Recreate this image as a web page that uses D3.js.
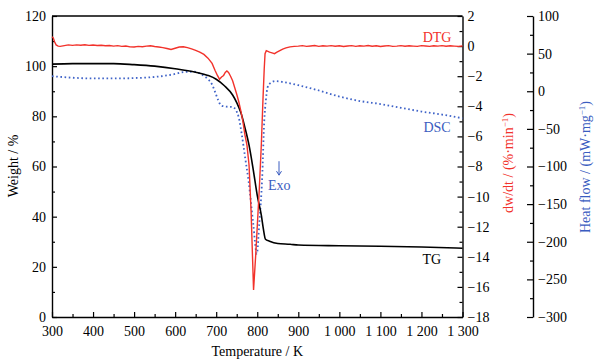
<!DOCTYPE html>
<html><head><meta charset="utf-8">
<script src="https://cdn.jsdelivr.net/npm/d3@7"></script>
<style>
body{margin:0;background:#fff}
text{font-family:"Liberation Serif","Times New Roman",serif}
</style>
</head><body>
<svg id="c" width="604" height="363"></svg>
<script>
// ---------- data ----------
const tgTemp = [300,350,400,450,500,550,600,650,680,700,720,740,750,760,770,780,790,800,810,815,820,830,850,880,900,1000,1100,1200,1300];
const tgWeight = [100.8,101.0,101.0,101.0,100.6,100.0,99.0,97.6,96.3,94.8,92.2,88.5,85.5,81.5,75.5,68.5,59,48.5,40.5,35,31,30.2,29.3,29.0,28.7,28.4,28.2,27.9,27.4];

const dtgTemp = [300,303,306,310,315,320,330,340,350,360,370,380,390,400,410,420,430,440,450,460,470,480,490,500,510,520,530,540,550,560,570,580,590,600,610,620,630,640,650,660,670,680,690,697,703,708,713,718,722,726,730,735,740,745,750,755,760,765,770,775,780,785,791,796,800,805,810,814,817,819,822,826,830,836,842,848,855,862,870,880,890,900,910,920,930,940,950,960,970,980,990,1000,1010,1020,1030,1040,1050,1060,1070,1080,1090,1100,1110,1120,1130,1140,1150,1160,1170,1180,1190,1200,1210,1220,1230,1240,1250,1260,1270,1280,1290,1300];
const dtgRate = [0.62,0.55,0.3,0.08,0.0,-0.02,0.03,0.08,0.05,0.08,0.06,0.09,0.05,0.07,0.04,0.06,0.02,0.04,0.0,0.03,-0.02,0.01,-0.05,-0.06,-0.02,-0.04,0.0,0.02,-0.03,-0.06,-0.1,-0.16,-0.22,-0.14,-0.06,-0.04,-0.1,-0.18,-0.28,-0.4,-0.55,-0.8,-1.15,-1.6,-1.95,-2.2,-2.05,-1.95,-1.75,-1.65,-1.75,-2.0,-2.3,-2.75,-3.2,-3.7,-4.3,-5.0,-5.9,-6.6,-7.9,-11.0,-16.2,-14.0,-12.0,-9.5,-6.5,-3.5,-1.5,-0.5,-0.3,-0.35,-0.4,-0.45,-0.5,-0.4,-0.3,-0.2,-0.12,-0.05,-0.02,0.0,0.03,-0.02,0.01,0.04,-0.02,0.02,0.0,0.03,-0.01,0.02,-0.03,0.01,0.03,-0.02,0.02,0.0,0.04,-0.01,0.02,-0.03,0.01,0.03,-0.02,0.0,0.03,-0.01,0.02,0.0,-0.02,0.03,0.01,-0.02,0.02,0.0,0.03,-0.01,0.02,0.0,-0.02,0.01];

const dscTemp = [300,350,400,450,500,550,600,620,645,665,680,690,698,705,712,725,740,748,755,763,771,779,790,799,805,812,817,821,825,830,845,865,900,950,1000,1050,1100,1150,1200,1250,1300];
const dscHeat = [20,18,17,17,17.5,19,23,25.5,26,22,16,9,-2,-12,-19,-20.5,-21,-25,-35,-60,-90,-120,-175,-216,-175,-115,-40,-12,5,10,13.5,12,8,1,-7,-13,-17,-22,-27,-31,-36];

const xTicks = [300,400,500,600,700,800,900,1000,1100,1200,1300];
const weightTicks = [0,20,40,60,80,100,120];
const rateTicks = [2,0,-2,-4,-6,-8,-10,-12,-14,-16,-18];
const heatTicks = [100,50,0,-50,-100,-150,-200,-250,-300];

// ---------- setup ----------
const svg = d3.select("#c");
const L = 52, R = 462.5, T = 16, B = 317;
const x = d3.scaleLinear([300,1300],[L,R]);
const yW = d3.scaleLinear([0,120],[B,T]);
const yD = d3.scaleLinear([-18,2],[B,T]);
const yH = d3.scaleLinear([-300,100],[B,T]);

const red = "#f2322b", blue = "#3f63c8", blueText = "#3a5cc0";
const fs = 14;

function style(g){
  g.selectAll("path.domain").attr("stroke","#000").attr("stroke-width",1.4);
  g.selectAll(".tick line").attr("stroke","#000").attr("stroke-width",1.2);
  g.selectAll("text").attr("font-size",fs).attr("fill","#000").attr("font-family","Liberation Serif, Times New Roman, serif");
}
const mid = a => a.slice(0,-1).map((v,i)=>(v+a[i+1])/2);
const fmtX = d => d>=1000 ? String(d).replace(/^(\d)(\d{3})$/,"$1 $2") : String(d);

// bottom axis
const gx = svg.append("g").attr("transform",`translate(0,${B})`)
  .call(d3.axisBottom(x).tickValues(xTicks).tickFormat(fmtX).tickSizeInner(-5).tickSizeOuter(0).tickPadding(9));
style(gx);
const gx2 = svg.append("g").attr("transform",`translate(0,${B})`)
  .call(d3.axisBottom(x).tickValues(mid(xTicks)).tickFormat("").tickSizeInner(-3).tickSizeOuter(0));
style(gx2); gx2.select("path.domain").remove();

// top frame
svg.append("line").attr("x1",x(300)).attr("x2",x(1300)).attr("y1",yW(120)).attr("y2",yW(120))
  .attr("stroke","#000").attr("stroke-width",1.4);

// left axis
const gy = svg.append("g").attr("transform",`translate(${L},0)`)
  .call(d3.axisLeft(yW).tickValues(weightTicks).tickSizeInner(-5).tickSizeOuter(0).tickPadding(6));
style(gy);
const gy2 = svg.append("g").attr("transform",`translate(${L},0)`)
  .call(d3.axisLeft(yW).tickValues(mid(weightTicks)).tickFormat("").tickSizeInner(-3).tickSizeOuter(0));
style(gy2); gy2.select("path.domain").remove();

// right dw/dt axis
const gd = svg.append("g").attr("transform",`translate(${R},0)`)
  .call(d3.axisRight(yD).tickValues(rateTicks).tickSizeInner(-5).tickSizeOuter(0).tickPadding(5));
style(gd);
const gd2 = svg.append("g").attr("transform",`translate(${R},0)`)
  .call(d3.axisRight(yD).tickValues(mid(rateTicks)).tickFormat("").tickSizeInner(-3).tickSizeOuter(0));
style(gd2); gd2.select("path.domain").remove();

// heat flow axis
const HX = 533;
const gh = svg.append("g").attr("transform",`translate(${HX},0)`)
  .call(d3.axisRight(yH).tickValues(heatTicks).tickSizeInner(-6).tickSizeOuter(0).tickPadding(5));
style(gh);
const gh2 = svg.append("g").attr("transform",`translate(${HX},0)`)
  .call(d3.axisRight(yH).tickValues(mid(heatTicks)).tickFormat("").tickSizeInner(-3).tickSizeOuter(0));
style(gh2); gh2.select("path.domain").remove();

// ---------- curves ----------
const plot = svg.append("g");
plot.append("path")
  .datum(dscTemp.map((t,i)=>[t,dscHeat[i]]))
  .attr("fill","none").attr("stroke",blue).attr("stroke-width",1.8)
  .attr("stroke-dasharray","1.6,2.6")
  .attr("d", d3.line().x(d=>x(d[0])).y(d=>yH(d[1])).curve(d3.curveMonotoneX));

plot.append("path")
  .datum(tgTemp.map((t,i)=>[t,tgWeight[i]]))
  .attr("fill","none").attr("stroke","#000").attr("stroke-width",1.6)
  .attr("d", d3.line().x(d=>x(d[0])).y(d=>yW(d[1])).curve(d3.curveMonotoneX));

plot.append("path")
  .datum(dtgTemp.map((t,i)=>[t,dtgRate[i]]))
  .attr("fill","none").attr("stroke",red).attr("stroke-width",1.4)
  .attr("d", d3.line().x(d=>x(d[0])).y(d=>yD(d[1])));

// ---------- labels ----------
svg.append("text").attr("x",x(1238)).attr("y",yD(0.3)).attr("text-anchor","middle")
  .attr("font-size",fs).attr("fill",red).text("DTG");
svg.append("text").attr("x",x(1238)).attr("y",yH(-54)).attr("text-anchor","middle")
  .attr("font-size",fs).attr("fill",blueText).text("DSC");
svg.append("text").attr("x",x(1225)).attr("y",yW(21.1)).attr("text-anchor","middle")
  .attr("font-size",fs).attr("fill","#000").text("TG");

// Exo arrow
const ax = x(853), ay1 = yH(-93), ay2 = yH(-111.5);
svg.append("line").attr("x1",ax).attr("x2",ax).attr("y1",ay1).attr("y2",ay2)
  .attr("stroke",blueText).attr("stroke-width",1);
svg.append("path").attr("d",`M${ax-2.5},${ay2-4}L${ax},${ay2}L${ax+2.5},${ay2-4}`)
  .attr("fill","none").attr("stroke",blueText).attr("stroke-width",1);
svg.append("text").attr("x",x(826)).attr("y",yH(-131)).attr("text-anchor","start")
  .attr("font-size",fs).attr("fill",blueText).text("Exo");

// axis titles
svg.append("text").attr("x",(L+R)/2).attr("y",356).attr("text-anchor","middle")
  .attr("font-size",fs).attr("fill","#000").text("Temperature / K");
svg.append("text").attr("transform","translate(18,166) rotate(-90)").attr("text-anchor","middle")
  .attr("font-size",fs).attr("fill","#000").text("Weight / %");
const t1 = svg.append("text").attr("transform","translate(513,163) rotate(-90)").attr("text-anchor","middle")
  .attr("font-size",fs).attr("fill",red);
t1.append("tspan").text("dw/dt / (%\u00b7min");
t1.append("tspan").attr("dy",-5).attr("font-size",9).text("\u22121");
t1.append("tspan").attr("dy",5).text(")");
const t2 = svg.append("text").attr("transform","translate(590,167) rotate(-90)").attr("text-anchor","middle")
  .attr("font-size",fs).attr("fill",blueText);
t2.append("tspan").text("Heat flow / (mW\u00b7mg");
t2.append("tspan").attr("dy",-5).attr("font-size",9).text("\u22121");
t2.append("tspan").attr("dy",5).text(")");
</script>
</body></html>
